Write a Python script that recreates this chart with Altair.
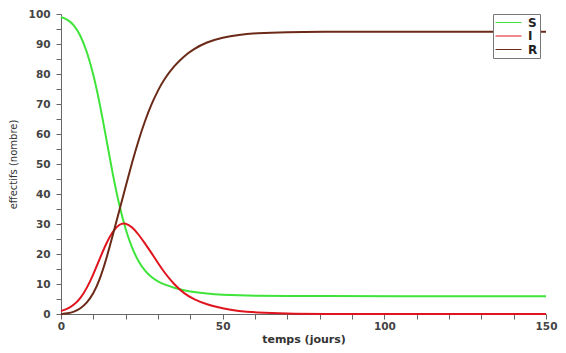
import altair as alt
import pandas as pd

days = [0, 2, 4, 6, 8, 10, 12, 14, 16, 18, 20, 22, 24, 26, 28, 30, 32, 35, 38, 41, 45, 50, 55, 60, 70, 80, 100, 150]
S = [99.0, 98.2, 96.4, 93.0, 87.6, 80.0, 70.2, 58.5, 46.5, 36.2, 28.0, 21.8, 17.4, 14.3, 12.2, 10.8, 9.8, 8.7, 7.9, 7.3, 6.8, 6.4, 6.2, 6.1, 6.0, 6.0, 5.95, 5.95]
I = [1.0, 1.7, 3.0, 5.2, 8.6, 13.2, 18.5, 23.6, 27.6, 30.0, 30.4, 29.0, 26.5, 23.5, 20.3, 17.0, 13.8, 9.8, 6.9, 4.9, 3.2, 1.8, 0.95, 0.5, 0.13, 0.03, 0.0, 0.0]
R = [0.0, 0.2, 0.7, 1.8, 3.7, 6.7, 11.5, 18.2, 26.2, 34.3, 42.5, 50.6, 58.0, 64.5, 70.0, 74.6, 78.4, 82.7, 85.9, 88.3, 90.6, 92.2, 93.1, 93.6, 94.0, 94.1, 94.1, 94.1]

series = ["S", "I", "R"]
colors = ["#3ee43a", "#e0141e", "#6b2a17"]

rows = []
for name, vals in zip(series, [S, I, R]):
    for t, v in zip(days, vals):
        rows.append({"temps": t, "valeur": v, "serie": name})
df = pd.DataFrame(rows)

x_ticks = list(range(0, 151, 10))
y_ticks = list(range(0, 101, 5))

chart = alt.Chart(df).mark_line(strokeWidth=2, interpolate="basis").encode(
    x=alt.X("temps:Q", scale=alt.Scale(domain=[0, 150], nice=False),
            axis=alt.Axis(title="temps (jours)", values=x_ticks,
                          labelExpr="datum.value % 50 == 0 ? datum.label : ''",
                          labelFlush=False, grid=False, tickSize=5, labelPadding=2,
                          titlePadding=2, titleFontSize=11, titleFontWeight="bold",
                          titleFont="DejaVu Sans", titleColor="#333",
                          labelFont="DejaVu Sans", labelFontSize=10.5, labelFontWeight="bold",
                          labelColor="#444", domainColor="#666", tickColor="#666")),
    y=alt.Y("valeur:Q", scale=alt.Scale(domain=[0, 100], nice=False),
            axis=alt.Axis(title="effectifs (nombre)", values=y_ticks,
                          labelExpr="datum.value % 10 == 0 ? datum.label : ''",
                          labelFlush=False, grid=False, tickSize=5, labelPadding=6,
                          titlePadding=10, titleFontSize=10, titleFontWeight="normal",
                          titleFont="DejaVu Sans", titleColor="#333",
                          labelFont="DejaVu Sans", labelFontSize=10.5, labelFontWeight="bold",
                          labelColor="#444", domainColor="#666", tickColor="#666")),
    color=alt.Color("serie:N", scale=alt.Scale(domain=series, range=colors),
                    legend=alt.Legend(title=None, orient="none", legendX=432, legendY=0,
                                      symbolType="stroke", symbolSize=676, symbolStrokeWidth=1,
                                      clipHeight=13, rowPadding=0.5, padding=2,
                                      labelOffset=6, labelFont="DejaVu Sans", labelFontSize=12,
                                      labelFontWeight="bold", labelColor="#222",
                                      strokeColor="#777", fillColor="white")),
    order=alt.Order("temps:Q")
).properties(
    width=485, height=300,
    autosize=alt.AutoSizeParams(type="none"),
    padding={"left": 53, "top": 6, "right": 12, "bottom": 31}
).configure_view(stroke=None)

chart.save("out.html", embed_options={"renderer": "svg", "actions": False})
